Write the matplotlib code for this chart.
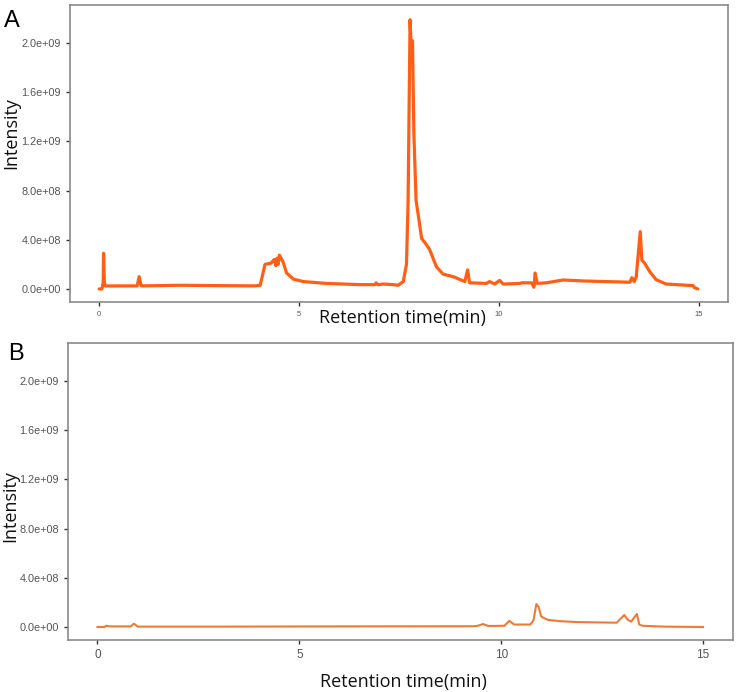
import matplotlib
matplotlib.use("Agg")
import matplotlib.pyplot as plt

# panel A: sample chromatogram (time in min, intensity in units of 1e9)
time_a = [0.0, 0.07, 0.1, 0.11, 0.13, 0.16, 0.5, 0.95, 1.0, 1.05, 1.1, 2.0, 3.0, 3.9,
          4.03, 4.15, 4.3, 4.38, 4.42, 4.45, 4.48, 4.51, 4.6, 4.69, 4.86, 5.11, 5.69,
          6.53, 6.9, 6.93, 6.97, 7.11, 7.36, 7.48, 7.61, 7.69, 7.73, 7.78, 7.81, 7.84,
          7.875, 7.93, 7.99, 8.07, 8.19, 8.27, 8.44, 8.61, 8.86, 9.15, 9.22, 9.27,
          9.69, 9.77, 9.9, 10.02, 10.11, 10.53, 10.57, 10.82, 10.88, 10.91, 10.96,
          11.19, 11.61, 12.11, 13.28, 13.33, 13.39, 13.44, 13.54, 13.58, 13.65, 13.78,
          13.94, 14.19, 14.86, 14.9, 14.98]
int_a = [0.0, 0.0, 0.05, 0.29, 0.05, 0.024, 0.025, 0.025, 0.1, 0.025, 0.025, 0.03, 0.027, 0.025,
         0.03, 0.2, 0.21, 0.24, 0.19, 0.25, 0.2, 0.275, 0.22, 0.13, 0.08, 0.06, 0.045,
         0.035, 0.035, 0.05, 0.035, 0.04, 0.035, 0.03, 0.06, 0.2, 0.7, 2.19, 1.95, 2.02,
         1.27, 0.72, 0.59, 0.41, 0.36, 0.32, 0.18, 0.12, 0.1, 0.06, 0.155, 0.05,
         0.045, 0.06, 0.04, 0.07, 0.04, 0.045, 0.05, 0.05, 0.014, 0.13, 0.045,
         0.05, 0.073, 0.065, 0.055, 0.092, 0.06, 0.1, 0.466, 0.235, 0.21, 0.14,
         0.075, 0.04, 0.027, 0.01, 0.0]

# panel B: blank chromatogram
time_b = [0.0, 0.18, 0.21, 0.3, 0.83, 0.9, 1.0, 3.0, 6.0, 9.3, 9.42, 9.55, 9.68, 10.08,
          10.2, 10.32, 10.72, 10.8, 10.87, 10.93, 10.99, 11.15, 11.47, 11.9, 12.86,
          13.05, 13.13, 13.22, 13.3, 13.36, 13.42, 13.5, 14.04, 15.0]
int_b = [0.0, 0.0, 0.01, 0.005, 0.005, 0.027, 0.003, 0.003, 0.005, 0.006, 0.01, 0.024, 0.008, 0.01,
         0.05, 0.02, 0.02, 0.054, 0.187, 0.16, 0.085, 0.058, 0.047, 0.04, 0.035,
         0.098, 0.06, 0.043, 0.08, 0.106, 0.02, 0.01, 0.003, 0.0]

ytick_vals = [0.0, 0.4, 0.8, 1.2, 1.6, 2.0]
ytick_labels = ["0.0e+00", "4.0e+08", "8.0e+08", "1.2e+09", "1.6e+09", "2.0e+09"]
xtick_vals = [0, 5, 10, 15]

fig = plt.figure(figsize=(7.4, 6.92), dpi=100)
ax_a = fig.add_axes([0.0946, 0.5636, 0.8894, 0.4292])
ax_b = fig.add_axes([0.0919, 0.0751, 0.8986, 0.4292])

ax_a.plot(time_a, int_a, color="#FF5E14", lw=2.3, solid_joinstyle="round",
          solid_capstyle="round")
ax_b.plot(time_b, int_b, color="#EE7B32", lw=1.5, solid_joinstyle="round")

for ax, xt_size in [(ax_a, 5.5), (ax_b, 8.5)]:
    ax.set_xlim(-0.73, 15.74)
    ax.set_ylim(-0.106, 2.31)
    ax.set_yticks(ytick_vals)
    ax.set_yticklabels(ytick_labels)
    ax.set_xticks(xtick_vals)
    ax.tick_params(axis="y", labelsize=7.8, colors="#333333", labelcolor="#555555",
                   length=3, width=1)
    ax.tick_params(axis="x", labelsize=xt_size, colors="#333333", labelcolor="#555555",
                   length=3, width=1)
    for lab in ax.get_xticklabels() + ax.get_yticklabels():
        lab.set_family("Liberation Sans")
    for sp in ax.spines.values():
        sp.set_color("#8a8a8a")
        sp.set_linewidth(1.2)
    ax.set_ylabel("Intensity", family="Open Sans", fontsize=13, color="#111111")
    ax.set_xlabel("Retention time(min)", family="Open Sans", fontsize=13,
                  color="#111111")

ax_a.xaxis.set_label_coords(0.505, -0.025)
ax_b.xaxis.set_label_coords(0.505, -0.11)
ax_a.yaxis.set_label_coords(-0.076, 0.57)
ax_b.yaxis.set_label_coords(-0.074, 0.45)

fig.text(0.006, 0.985, "A", fontsize=17, family="Liberation Sans", va="top")
fig.text(0.011, 0.505, "B", fontsize=17, family="Liberation Sans", va="top")

plt.savefig("out.png", dpi=100)
